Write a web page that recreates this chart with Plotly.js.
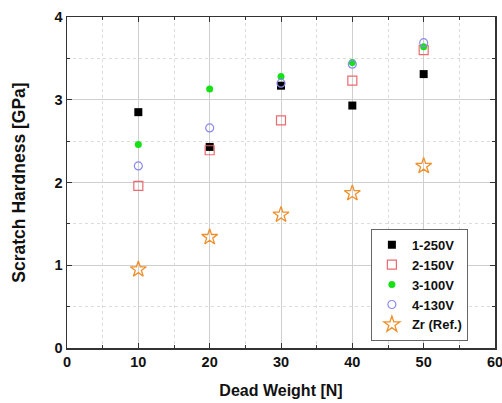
<!DOCTYPE html>
<html><head><meta charset="utf-8">
<script src="https://cdn.plot.ly/plotly-3.0.1.min.js"></script>
<style>html,body{margin:0;padding:0;background:#fff}#c{width:502px;height:403px}</style>
</head><body><div id="c"></div>
<script>
const weights = [10, 20, 30, 40, 50];
const s1_250V = [2.85, 2.43, 3.17, 2.93, 3.31];
const s2_150V = [1.96, 2.39, 2.75, 3.23, 3.60];
const s3_100V = [2.46, 3.13, 3.28, 3.45, 3.64];
const s4_130V = [2.20, 2.66, 3.20, 3.43, 3.69];
const zrRef   = [0.95, 1.34, 1.61, 1.87, 2.20];
const names = ['1-250V', '2-150V', '3-100V', '4-130V', 'Zr (Ref.)'];

const traces = [
  {x: weights, y: s1_250V, name: names[0], mode: 'markers', type: 'scatter',
   marker: {symbol: 'square', size: 8, color: '#000'}},
  {x: weights, y: s2_150V, name: names[1], mode: 'markers', type: 'scatter',
   marker: {symbol: 'square-open', size: 9, color: '#ec6a70', line: {width: 1.2}}},
  {x: weights, y: s3_100V, name: names[2], mode: 'markers', type: 'scatter',
   marker: {symbol: 'circle', size: 7, color: '#16e016'}},
  {x: weights, y: s4_130V, name: names[3], mode: 'markers', type: 'scatter',
   marker: {symbol: 'circle-open', size: 8, color: '#8a8af0', line: {width: 1.2}}},
  {x: weights, y: zrRef, name: names[4], mode: 'markers', type: 'scatter',
   marker: {symbol: 'star-open', size: 12, color: '#f0902a', line: {width: 1.3}}}
];

const FONT = 'Liberation Sans, Arial, sans-serif';
const axBase = {
  showline: true, linecolor: '#333', linewidth: 1.5, mirror: 'ticks',
  ticks: 'inside', ticklen: 5, tickcolor: '#333', tickwidth: 1,
  showgrid: true, gridcolor: '#cfcfcf', gridwidth: 1, zeroline: false,
  ticklabeloverflow: 'allow',
  tickfont: {family: FONT, size: 14.5, color: '#111', weight: 'bold'},
};

const layout = {
  width: 502, height: 403,
  margin: {l: 67, r: 7, t: 17, b: 55},
  paper_bgcolor: '#fff', plot_bgcolor: '#fff',
  showlegend: true,
  xaxis: Object.assign({}, axBase, {
    range: [0, 60], dtick: 10, tick0: 0,
    minor: {dtick: 5, ticks: 'inside', ticklen: 3, showgrid: true, gridcolor: '#dcdcdc', griddash: 'dot', tickcolor: '#333'},
    title: {text: '<b>Dead Weight [N]</b>', standoff: 16,
            font: {family: FONT, size: 16, color: '#111'}}
  }),
  yaxis: Object.assign({}, axBase, {
    range: [0, 4], dtick: 1, tick0: 0,
    minor: {dtick: 0.5, ticks: 'inside', ticklen: 3, showgrid: true, gridcolor: '#dcdcdc', griddash: 'dot', tickcolor: '#333'},
    title: {text: '<b>Scratch Hardness [GPa]</b>', standoff: 24,
            font: {family: FONT, size: 17.5, color: '#111'}}
  }),
  legend: {
    x: 0.71, y: 0.36, xanchor: 'left', yanchor: 'top',
    bgcolor: '#fff', bordercolor: '#666', borderwidth: 1,
    font: {family: FONT, size: 13, color: '#111', weight: 'bold'},
    tracegroupgap: 0, itemwidth: 30
  }
};

Plotly.newPlot('c', traces, layout, {staticPlot: true, displayModeBar: false});
</script>
</body></html>
